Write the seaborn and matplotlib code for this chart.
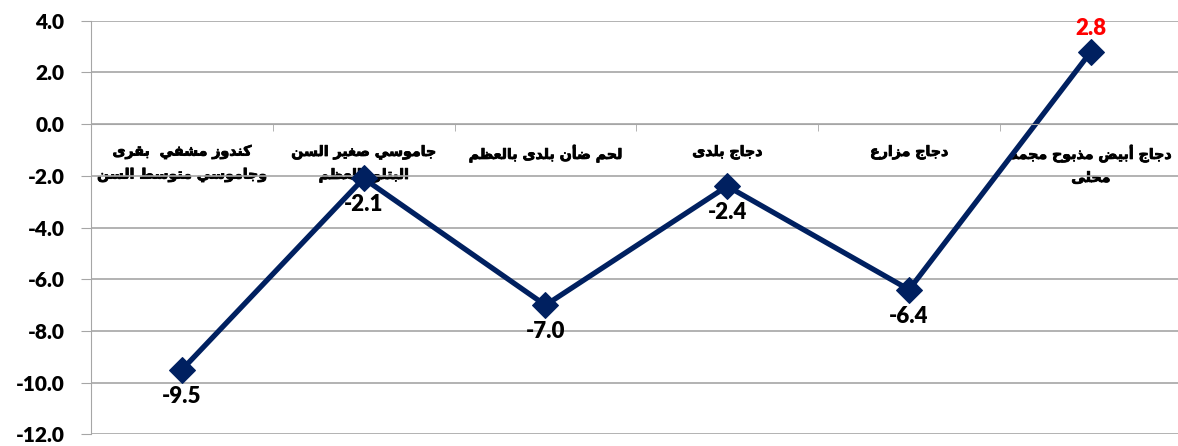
import matplotlib
matplotlib.use("Agg")
import matplotlib.pyplot as plt
import matplotlib.patheffects as pe
import seaborn as sns
import pandas as pd

# chart data
categories = [
    "كندوز مشفي  بقرى\nوجاموسي متوسط السن",
    "جاموسي صغير السن\nالبتلو بالعظم",
    "لحم ضأن بلدى بالعظم",
    "دجاج بلدى",
    "دجاج مزارع",
    "دجاج أبيض مذبوح مجمد\nمحلى",
]
values = [-9.5, -2.1, -7.0, -2.4, -6.4, 2.8]
y_ticks = [-12, -10, -8, -6, -4, -2, 0, 2, 4]

# matplotlib 3.10 has no arabic shaping, so join letters with presentation forms
# (isolated, final, initial, medial)
FORMS = {
    "ا": ("\uFE8D", "\uFE8E", None, None),
    "أ": ("\uFE83", "\uFE84", None, None),
    "ب": ("\uFE8F", "\uFE90", "\uFE91", "\uFE92"),
    "ت": ("\uFE95", "\uFE96", "\uFE97", "\uFE98"),
    "ج": ("\uFE9D", "\uFE9E", "\uFE9F", "\uFEA0"),
    "ح": ("\uFEA1", "\uFEA2", "\uFEA3", "\uFEA4"),
    "د": ("\uFEA9", "\uFEAA", None, None),
    "ذ": ("\uFEAB", "\uFEAC", None, None),
    "ر": ("\uFEAD", "\uFEAE", None, None),
    "ز": ("\uFEAF", "\uFEB0", None, None),
    "س": ("\uFEB1", "\uFEB2", "\uFEB3", "\uFEB4"),
    "ش": ("\uFEB5", "\uFEB6", "\uFEB7", "\uFEB8"),
    "ص": ("\uFEB9", "\uFEBA", "\uFEBB", "\uFEBC"),
    "ض": ("\uFEBD", "\uFEBE", "\uFEBF", "\uFEC0"),
    "ط": ("\uFEC1", "\uFEC2", "\uFEC3", "\uFEC4"),
    "ظ": ("\uFEC5", "\uFEC6", "\uFEC7", "\uFEC8"),
    "ع": ("\uFEC9", "\uFECA", "\uFECB", "\uFECC"),
    "غ": ("\uFECD", "\uFECE", "\uFECF", "\uFED0"),
    "ف": ("\uFED1", "\uFED2", "\uFED3", "\uFED4"),
    "ق": ("\uFED5", "\uFED6", "\uFED7", "\uFED8"),
    "ك": ("\uFED9", "\uFEDA", "\uFEDB", "\uFEDC"),
    "ل": ("\uFEDD", "\uFEDE", "\uFEDF", "\uFEE0"),
    "م": ("\uFEE1", "\uFEE2", "\uFEE3", "\uFEE4"),
    "ن": ("\uFEE5", "\uFEE6", "\uFEE7", "\uFEE8"),
    "ه": ("\uFEE9", "\uFEEA", "\uFEEB", "\uFEEC"),
    "و": ("\uFEED", "\uFEEE", None, None),
    "ى": ("\uFEEF", "\uFEF0", None, None),
    "ي": ("\uFEF1", "\uFEF2", "\uFEF3", "\uFEF4"),
}


def shape_line(line):
    out = []
    for i, c in enumerate(line):
        if c not in FORMS:
            out.append(c)
            continue
        prev = line[i - 1] if i > 0 else None
        nxt = line[i + 1] if i + 1 < len(line) else None
        iso, fin, ini, med = FORMS[c]
        jp = prev in FORMS and FORMS[prev][2] is not None
        jn = ini is not None and nxt in FORMS
        if jp and jn:
            out.append(med)
        elif jp:
            out.append(fin)
        elif jn:
            out.append(ini)
        else:
            out.append(iso)
    return "".join(reversed(out))


def shape(text):
    return "\n".join(shape_line(l) for l in text.split("\n"))


df = pd.DataFrame({"x": range(len(values)), "value": values})

sns.set_style("white")
plt.rcParams["font.family"] = ["Lato", "DejaVu Sans"]
plt.rcParams["text.color"] = "black"
plt.rcParams["xtick.color"] = "black"
plt.rcParams["ytick.color"] = "black"

fig = plt.figure(figsize=(11.78, 4.46), dpi=100)
ax = fig.add_axes([0.0772, 0.0258, 0.926, 0.9278])

sns.lineplot(data=df, x="x", y="value", ax=ax, color="#002060", linewidth=3.8,
             marker="D", markersize=13, markeredgecolor="#002060")

ax.set_xlim(-0.5, 5.5)
ax.set_ylim(-12, 4)
ax.set_yticks(y_ticks)
ax.set_yticklabels([f"{t:.1f}" for t in y_ticks], fontsize=15, fontweight="heavy")
ax.yaxis.grid(True, color="#a6a6a6", linewidth=1.2)
ax.xaxis.grid(False)

# category axis sits on the zero line
ax.spines["bottom"].set_position(("data", 0))
ax.spines["bottom"].set_color("#a6a6a6")
ax.spines["left"].set_color("#a6a6a6")
ax.spines["top"].set_visible(False)
ax.spines["right"].set_visible(False)
ax.set_xticks(range(len(categories)))
ax.set_xticklabels([shape(c) for c in categories], fontsize=10.2, fontweight="bold",
                   family=["DejaVu Sans"], linespacing=1.75)
for lbl in ax.get_xticklabels():
    lbl.set_path_effects([pe.withStroke(linewidth=0.6, foreground="black")])
ax.set_xticks([i + 0.5 for i in range(len(categories) - 1)], minor=True)
ax.tick_params(axis="x", which="major", length=0, pad=15)
ax.tick_params(axis="x", which="minor", length=5, color="#a6a6a6", direction="out", bottom=True)
ax.tick_params(axis="y", length=7, color="#a6a6a6", direction="out", left=True, pad=12)
ax.set_xlabel("")
ax.set_ylabel("")

for i, v in enumerate(values):
    if v > 0:
        ax.annotate(f"{v:.1f}", (i, v), xytext=(0, 17), textcoords="offset points",
                    ha="center", va="center", fontsize=16, fontweight="heavy", color="red")
    else:
        ax.annotate(f"{v:.1f}", (i, v), xytext=(0, -19), textcoords="offset points",
                    ha="center", va="center", fontsize=16, fontweight="heavy", color="black")

plt.savefig("out.png", dpi=100)
